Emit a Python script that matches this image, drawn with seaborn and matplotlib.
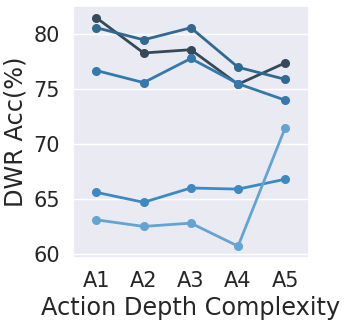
import matplotlib
matplotlib.use("Agg")
import matplotlib.pyplot as plt
import seaborn as sns
import pandas as pd

categories = ["A1", "A2", "A3", "A4", "A5"]
series_names = ["S1", "S2", "S3", "S4", "S5"]
s1 = [81.5, 78.3, 78.6, 75.45, 77.4]
s2 = [80.6, 79.5, 80.6, 77.0, 75.9]
s3 = [76.7, 75.6, 77.8, 75.5, 74.0]
s4 = [65.6, 64.7, 66.0, 65.9, 66.8]
s5 = [63.1, 62.5, 62.8, 60.7, 71.5]
colors = ["#35495a", "#2f6a92", "#3479ad", "#3c89c4", "#62a5d4"]

rows = []
for name, vals in zip(series_names, [s1, s2, s3, s4, s5]):
    for c, v in zip(categories, vals):
        rows.append({"cat": c, "val": v, "series": name})
df = pd.DataFrame(rows)

sns.set_theme(style="darkgrid", font_scale=1.35)
fig, ax = plt.subplots(figsize=(3.47, 3.22), dpi=100)
sns.pointplot(data=df, x="cat", y="val", hue="series", hue_order=series_names,
              palette=colors, ax=ax, legend=False, markersize=5, linewidth=2)
ax.set_xlabel("Action Depth Complexity", fontsize=17.3)
ax.set_ylabel("DWR Acc(%)", fontsize=17.3)
ax.tick_params(labelsize=15)
ax.set_yticks([60, 65, 70, 75, 80])
fig.subplots_adjust(left=0.21, right=0.89, top=0.98, bottom=0.2)
fig.savefig("out.png", dpi=100)
